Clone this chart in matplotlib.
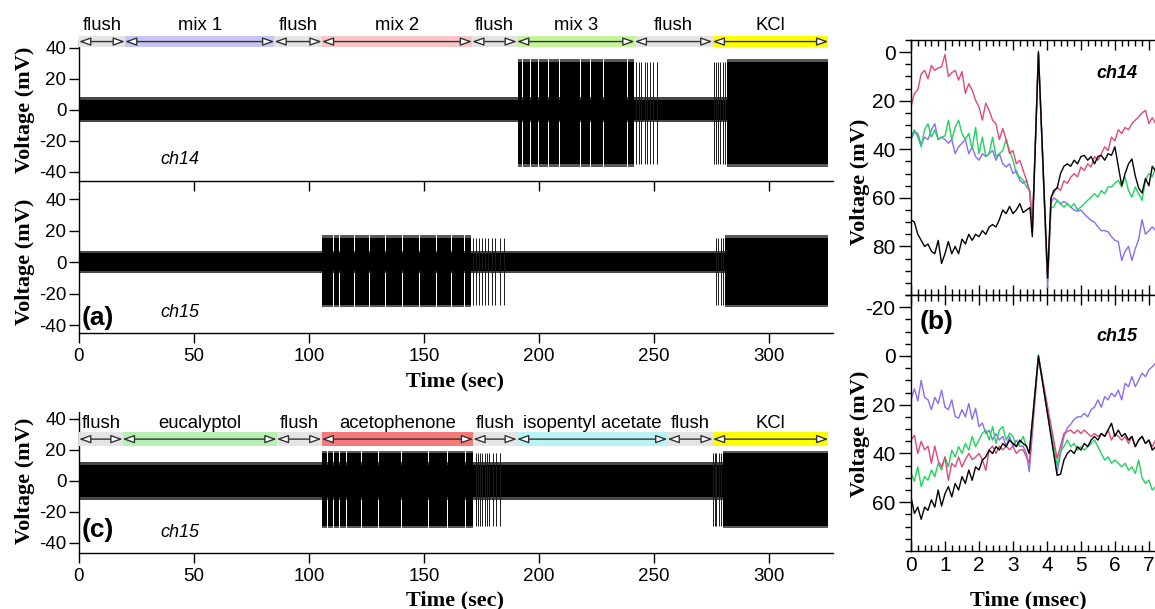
import matplotlib
matplotlib.use("Agg")
import matplotlib.pyplot as plt
import numpy as np

plt.rcParams['font.family'] = ['Liberation Sans', 'DejaVu Sans']
plt.rcParams['axes.unicode_minus'] = False

# ---------------- stimulus timeline (sec) ----------------
labels_a = ["flush", "mix 1", "flush", "mix 2", "flush", "mix 3", "flush", "KCl"]
edges_a = [0, 20, 85, 105.6, 171, 190.5, 241.7, 275.6, 326]
colors_a = ["#e4e4e4", "#c6c6f6", "#e4e4e4", "#f8c6c6", "#e4e4e4", "#c4f59c", "#e4e4e4", "#ffff00"]

labels_c = ["flush", "eucalyptol", "flush", "acetophenone", "flush", "isopentyl acetate", "flush", "KCl"]
edges_c = [0, 19, 86, 105.5, 171.5, 190.5, 256, 275.7, 326]
colors_c = ["#e4e4e4", "#b6f0b2", "#e4e4e4", "#f77a7a", "#e4e4e4", "#baf3f6", "#e4e4e4", "#ffff00"]

# ---------------- long recordings: baseline band + bursts ----------------
rec_end = 326
# ch14 (a)
a14_base = (6.5, 8.0)           # core / outer half-amplitude (mV)
a14_range = (-35, 31)
a14_blocks = [(191.0, 192.6), (193.0, 196.2), (196.6, 199.6), (200.0, 204.0), (204.4, 208.8),
              (209.2, 213.4), (213.8, 217.8), (218.2, 222.4), (222.8, 227.8), (228.2, 233.4),
              (233.8, 238.4), (238.8, 241.5), (282.0, 326.0)]
a14_spikes = [242.3, 243.5, 244.6, 246.0, 247.2, 248.3, 249.8, 251.5, 276.2, 277.0, 277.8, 279.0,
              280.2, 281.2]
# ch15 (a)
a15_base = (5.5, 7.0)
a15_range = (-27, 15.5)
a15_blocks = [(105.8, 110.6), (111.0, 113.0), (113.6, 119.6), (120.0, 126.0), (126.4, 133.0),
              (133.4, 140.6), (141.0, 148.0), (148.4, 155.2), (155.6, 162.0), (162.4, 167.6),
              (168.0, 170.5), (281.0, 326.0)]
a15_spikes = [171.5, 172.8, 174.0, 175.3, 176.5, 178.0, 179.6, 181.0, 183.0, 185.0, 277.0, 278.0,
              279.2, 280.2]
# ch15 (c)
c15_base = (10.5, 12.5)
c15_range = (-29, 18)
c15_blocks = [(105.8, 108.0), (108.4, 110.5), (110.9, 113.2), (113.6, 116.0), (116.4, 119.0),
              (119.4, 122.5), (122.9, 130.0), (130.4, 140.0), (140.4, 152.0), (152.4, 160.0),
              (160.4, 168.0), (168.4, 171.5), (280.0, 326.0)]
c15_spikes = [172.5, 173.5, 174.5, 175.5, 176.5, 177.5, 178.5, 180.0, 181.5, 183.0,
              275.8, 276.5, 277.3, 278.2, 279.2]

# ---------------- spike waveforms (msec, mV) ----------------
t14 = np.r_[np.round(np.arange(0, 3.55, 0.1), 2), 3.57, 3.75, 4.02, 4.12, np.round(np.arange(4.2, 7.25, 0.1), 2)]
ch14_pink = [22.5, 17, 15.5, 9, 7.5, 11, 5.5, 7.5, 6.5, 6, 1, 10, 8.5, 7.5, 11.5, 8, 17, 13, 15.7, 19.8,
             22.5, 28, 21, 24, 28, 29.5, 36, 31.5, 36, 41.8, 40.5, 46, 44.5, 48.7, 52.8, 58,
             72, 1, 93, 60,
             58, 55.5, 57, 53, 54, 51.5, 50, 51.4, 47.3, 48.7, 46, 47.3, 43, 44.5, 41.8, 39, 40.5, 35,
             36.5, 32, 33.5, 31, 32, 29.4, 28, 26.7, 25, 24, 29.4, 27, 29.4]
ch14_green = [35, 32, 35, 39, 32, 29.5, 35, 32, 36, 35, 34.5, 28, 36, 31, 28, 33.5, 36, 33.5, 40, 31,
              41.8, 35, 43, 41.8, 35, 43, 41.8, 40.5, 36, 40.5, 44.5, 50, 51.4, 52.8, 55.5, 57,
              74, -0.5, 94, 64,
              63.8, 61, 62.4, 63.8, 62.4, 63.8, 62.4, 65, 63.8, 62.4, 61, 59.7, 58.3, 59.7, 57, 58.3,
              55.5, 55.5, 54, 52.8, 55.5, 51.4, 57, 59.7, 55.5, 58.3, 61, 52.8, 50, 51.4, 47.3]
ch14_purple = [36, 33, 33.5, 38, 35, 36, 32, 29.5, 36, 35, 36, 37.5, 36, 41.8, 39, 37.5, 36, 41.8, 39, 43,
               44.5, 41.8, 43, 41.8, 40.5, 44.5, 41.8, 46, 47.3, 46, 50, 48.7, 52.8, 54, 52.8, 58,
               74, 0.5, 97, 62,
               60, 61, 62.4, 61.5, 62.4, 63.8, 65, 65.5, 65, 66.6, 68, 69.3, 70, 72, 73.5, 73.5, 74,
               76, 77.5, 78, 85.8, 82, 80, 85.8, 81, 77, 69, 75, 73.5, 72, 73.5]
ch14_black = [69, 70, 75, 77.5, 80, 79, 82, 83, 77.5, 87, 83, 78, 83, 80, 83, 77, 79, 75, 77.5, 75,
              76, 73.5, 75, 72, 71, 72, 69, 65, 66.5, 63.5, 66.5, 65, 62.4, 66, 65, 64,
              76, 0, 93, 60,
              57, 56, 50, 47, 46, 47, 44.5, 46, 43, 42.5, 44.5, 43, 46, 43, 42.5, 44.5, 41.8, 42.5,
              39, 47, 55, 50, 46, 44, 51, 56, 58, 52, 55, 47, 49]

t15 = np.r_[np.round(np.arange(0, 3.45, 0.1), 2), 3.48, 3.75, np.round(np.arange(4.3, 7.25, 0.1), 2)]
ch15_purple = [18, 13.5, 18.5, 10, 17, 18, 22, 17, 19.5, 14, 21, 22, 18, 24.9, 25.5, 22, 25, 19.5,
               26, 21.5, 29, 27.5, 31.8, 30.5, 34.5, 31.8, 34.5, 33, 37, 33, 37, 34.5, 37, 37, 40,
               47.5, 0.5,
               48, 40, 33, 29.5, 28, 26, 25, 25, 23.5, 25, 22, 21, 18, 21, 16.7, 18, 15.3, 16.7, 14,
               18, 11.2, 12.6, 8.5, 12.6, 9.9, 7.1, 8.5, 5.7, 4.4, 3]
ch15_pink = [34.5, 32.5, 40, 35, 38.5, 37, 44, 37, 43, 45.5, 41.5, 51, 44, 45.5, 41.5, 45.5, 42.5, 40,
             42.5, 41.5, 40, 42.5, 47, 38.5, 37, 40, 37, 38.5, 37, 38.5, 37, 40, 38.5, 38.5, 41.5,
             44, 0.5,
             42, 37, 31.8, 31, 30.4, 31.8, 30.4, 31.8, 30.4, 31.8, 33, 31.8, 33, 31.8, 33, 30.4,
             34.5, 31.8, 33, 34.5, 33, 35.9, 33, 37.2, 34.5, 33, 35.9, 34.5, 37.2, 34.5]
ch15_green = [48, 51.4, 45.5, 53.6, 49.5, 51, 46.8, 49.5, 44, 46.8, 41.4, 45.5, 38.6, 41.4, 37.2, 40,
              35.9, 38.6, 33, 37.2, 34.5, 31.7, 30.4, 34.5, 29, 35.9, 30.4, 29, 34.5, 31.7, 33, 37.2,
              35.9, 33, 37.2,
              40, -0.5,
              45, 39, 37.2, 34.5, 37.2, 35.9, 38.6, 37.2, 38.6, 37.2, 35.9, 34.5, 37.2, 40, 42.7,
              41.4, 44, 42.7, 44, 45.5, 44, 46.8, 45.5, 48.2, 42.7, 50, 52.3, 50.9, 55, 53.6]
ch15_black = [57.8, 64.6, 62, 67, 62, 63.3, 59, 62, 55, 61.6, 56.5, 53.6, 57.8, 52.3, 55, 49.5, 52.3,
              46.8, 51, 45.5, 46.8, 42.7, 41.4, 38.6, 40, 37.2, 38.6, 35.9, 37.2, 34.5, 35.9, 37.2,
              34.5, 35.9, 37,
              40, 0,
              49, 48.5, 42.7, 40, 38.6, 40, 37.2, 38.6, 35.9, 37.2, 34.5, 33, 34.5, 31.8, 33, 30.4,
              27.6, 33, 30.4, 33, 31.8, 34.5, 33, 37.2, 34.5, 33, 35.9, 34.5, 38.6, 37.2]

trace_colors = {"purple": "#8a6cf0", "green": "#1fd45c", "pink": "#e0487c", "black": "black"}

W, H = 1155, 609
fig = plt.figure(figsize=(W / 100, H / 100), dpi=100)


def px_axes(left, top, right, bottom):
    return fig.add_axes([left / W, 1 - bottom / H, (right - left) / W, (bottom - top) / H])


ax_a1 = px_axes(79, 40, 833, 181)
ax_a2 = px_axes(79, 192, 833, 333)
ax_c = px_axes(79, 412, 833, 553)
ax_b1 = px_axes(911, 40, 1155, 295)
ax_b2 = px_axes(911, 295, 1155, 551)


def draw_recording(ax, base, vrange, blocks, spikes):
    core, outer = base
    lo, hi = vrange
    # soft fringe around the baseline noise and the bursts
    ax.fill_between([0, rec_end], -outer, outer, color="0.28", lw=0)
    ax.broken_barh([(b0, b1 - b0) for b0, b1 in blocks], (lo - 1.5, hi - lo + 3), facecolors="0.35")
    ax.fill_between([0, rec_end], -core, core, color="black", lw=0)
    ax.broken_barh([(b0, b1 - b0) for b0, b1 in blocks], (lo, hi - lo), facecolors="black")
    ax.vlines(spikes, lo, hi, color="0.1", lw=0.7)


def style_long(ax, ylim, show_xlabels):
    ax.set_xlim(0, 328)
    ax.set_ylim(*ylim)
    for s in ["top", "right"]:
        ax.spines[s].set_visible(False)
    for s in ["left", "bottom"]:
        ax.spines[s].set_linewidth(1.0)
    ax.set_xticks([0, 50, 100, 150, 200, 250, 300])
    ax.set_yticks([-40, -20, 0, 20, 40])
    ax.tick_params(direction="out", length=7, width=1.0, labelsize=13.5)
    ax.tick_params(axis="x", labelbottom=show_xlabels, pad=4)
    ax.tick_params(axis="y", pad=2)


def draw_timeline(ax, edges, labels, colors, ybar, half, ytext):
    starts = edges[:-1]
    widths = np.diff(edges)
    ax.bar(starts, 2 * half, width=widths, bottom=ybar - half, align="edge",
           color=colors, lw=0, clip_on=False, zorder=3)
    for e0, e1, lab in zip(edges[:-1], edges[1:], labels):
        ax.annotate("", xy=(e1, ybar), xytext=(e0, ybar), annotation_clip=False,
                    arrowprops=dict(arrowstyle="<|-|>,head_length=0.7,head_width=0.25",
                                    fc="white", ec="0.2", lw=1.0, shrinkA=0, shrinkB=0), zorder=4)
        ax.text((e0 + e1) / 2, ytext, lab, ha="center", va="center", fontsize=13.3, zorder=5)


# ---- panel (a) ----
draw_recording(ax_a1, a14_base, a14_range, a14_blocks, a14_spikes)
style_long(ax_a1, (-45.8, 45), False)
draw_timeline(ax_a1, edges_a, labels_a, colors_a, 44, 3.8, 54.5)
ax_a1.text(44, -32, "ch14", style="italic", fontsize=13, ha="center", va="center")

draw_recording(ax_a2, a15_base, a15_range, a15_blocks, a15_spikes)
style_long(ax_a2, (-45, 44.5), True)
ax_a2.text(44, -31.7, "ch15", style="italic", fontsize=13, ha="center", va="center")
ax_a2.text(1, -35.5, "(a)", fontsize=19, fontweight="bold", ha="left", va="center")

# ---- panel (c) ----
draw_recording(ax_c, c15_base, c15_range, c15_blocks, c15_spikes)
style_long(ax_c, (-46.5, 44.5), True)
draw_timeline(ax_c, edges_c, labels_c, colors_c, 27, 4.5, 36.8)
ax_c.text(44, -33, "ch15", style="italic", fontsize=13, ha="center", va="center")
ax_c.text(1, -31.6, "(c)", fontsize=19, fontweight="bold", ha="left", va="center")

# ---- panel (b) ----
for ax, t, traces, ylim, yt in [
        (ax_b1, t14, [("purple", ch14_purple), ("green", ch14_green), ("pink", ch14_pink), ("black", ch14_black)],
         (100, -5), [0, 20, 40, 60, 80]),
        (ax_b2, t15, [("purple", ch15_purple), ("green", ch15_green), ("pink", ch15_pink), ("black", ch15_black)],
         (80, -25), [-20, 0, 20, 40, 60])]:
    for name, vals in traces:
        ax.plot(t, vals, color=trace_colors[name], lw=1.0)
    ax.set_xlim(0, 7.18)
    ax.set_ylim(*ylim)
    ax.spines["right"].set_visible(False)
    for s in ["left", "top", "bottom"]:
        ax.spines[s].set_linewidth(1.0)
    ax.set_yticks(yt)
    ax.set_yticks(np.arange(-25, 101, 5), minor=True)
    ax.set_xticks(np.arange(0, 8, 1))
    ax.set_xticks(np.arange(0, 7.2, 0.2), minor=True)
    ax.tick_params(axis="y", which="major", direction="out", length=9, width=1.0, labelsize=15, pad=2)
    ax.tick_params(axis="y", which="minor", direction="out", length=4.5, width=1.0)
    ax.tick_params(axis="x", which="major", direction="in", length=7, width=1.0, labelsize=15,
                   top=True, bottom=True)
    ax.tick_params(axis="x", which="minor", direction="in", length=4, width=1.0, top=True, bottom=True)

ax_b1.set_ylim(100, -5)
ax_b2.set_ylim(80, -25)
ax_b1.tick_params(axis="x", labelbottom=False)
ax_b1.text(6.06, 8.7, "ch14", style="italic", fontweight="bold", fontsize=13, ha="center", va="center")
ax_b2.text(6.06, -7.8, "ch15", style="italic", fontweight="bold", fontsize=13, ha="center", va="center")
ax_b2.text(0.25, -14, "(b)", fontsize=19, fontweight="bold", ha="left", va="center")

# ---- axis titles ----
serif = dict(family=["Liberation Serif", "DejaVu Serif"], fontweight="bold", fontsize=16)
for xp, yp in [(25, 110), (25, 262), (25, 481), (860, 182), (860, 434)]:
    fig.text(xp / W, 1 - yp / H, "Voltage (mV)", rotation=90, ha="center", va="center", **serif)
fig.text(455 / W, 1 - 381 / H, "Time (sec)", ha="center", va="center", **serif)
fig.text(455 / W, 1 - 600 / H, "Time (sec)", ha="center", va="center", **serif)
fig.text(1028 / W, 1 - 600 / H, "Time (msec)", ha="center", va="center", **serif)

fig.savefig("out.png", dpi=100)
